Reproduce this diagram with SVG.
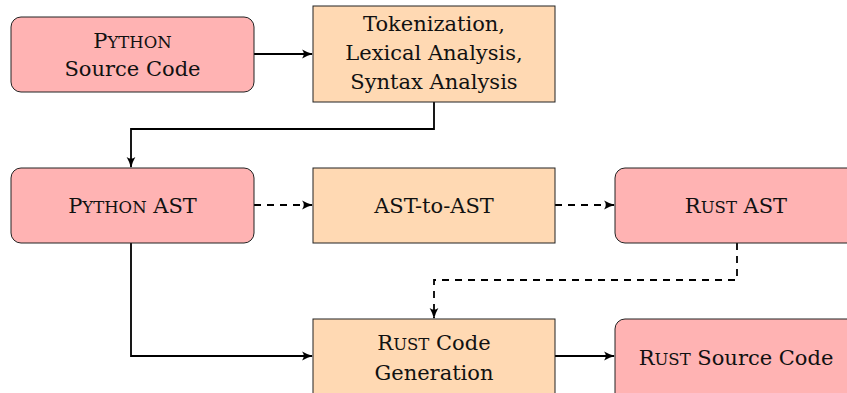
<svg xmlns="http://www.w3.org/2000/svg" width="847" height="393" viewBox="0 0 847 393">
<style>
.pink{fill:#ffb3b3;stroke:#222;stroke-width:1}
.peach{fill:#ffd9b3;stroke:#222;stroke-width:1}
text{font-family:'DejaVu Serif',serif;font-size:21px;fill:#111;text-anchor:middle}
.sc{font-size:16.5px}
.c{fill:none;stroke:#000;stroke-width:1.8}
.d{stroke-dasharray:7,6}
</style>
<defs>
<marker id="ah" viewBox="0 0 10 10" refX="9" refY="5" markerWidth="11" markerHeight="11" markerUnits="userSpaceOnUse" orient="auto">
<path d="M0,1 Q5,4 10,5 Q5,6 0,9 Q3,5 0,1 Z" fill="#000"/>
</marker>
</defs>
<g id="connectors">
<path class="c" d="M254,54 H312" marker-end="url(#ah)"/>
<path class="c" d="M434,102 V129 H131 V167" marker-end="url(#ah)"/>
<path class="c d" d="M254,205 H312" marker-end="url(#ah)"/>
<path class="c d" d="M555,205 H614" marker-end="url(#ah)"/>
<path class="c d" d="M737,243 V280 H434 V318" marker-end="url(#ah)"/>
<path class="c" d="M131,243 V356 H312" marker-end="url(#ah)"/>
<path class="c" d="M555,356 H614" marker-end="url(#ah)"/>
</g>
<g id="python-source">
<rect class="pink" x="11" y="17" width="243" height="75" rx="10"/>
<text x="132.5" y="48">P<tspan class="sc">YTHON</tspan></text>
<text x="132.5" y="76">Source Code</text>
</g>
<g id="tokenization">
<rect class="peach" x="313" y="6" width="242" height="96"/>
<text x="434" y="31">Tokenization,</text>
<text x="434" y="60">Lexical Analysis,</text>
<text x="434" y="89">Syntax Analysis</text>
</g>
<g id="python-ast">
<rect class="pink" x="11" y="168" width="243" height="75" rx="10"/>
<text x="132.5" y="213">P<tspan class="sc">YTHON</tspan> AST</text>
</g>
<g id="ast-to-ast">
<rect class="peach" x="313" y="168" width="242" height="75"/>
<text x="434" y="213">AST-to-AST</text>
</g>
<g id="rust-ast">
<rect class="pink" x="615" y="168" width="243" height="75" rx="10"/>
<text x="736" y="213">R<tspan class="sc">UST</tspan> AST</text>
</g>
<g id="rust-codegen">
<rect class="peach" x="313" y="319" width="242" height="85"/>
<text x="434" y="350">R<tspan class="sc">UST</tspan> Code</text>
<text x="434" y="380">Generation</text>
</g>
<g id="rust-source">
<rect class="pink" x="615" y="319" width="243" height="85" rx="10"/>
<text x="736" y="365">R<tspan class="sc">UST</tspan> Source Code</text>
</g>
</svg>
